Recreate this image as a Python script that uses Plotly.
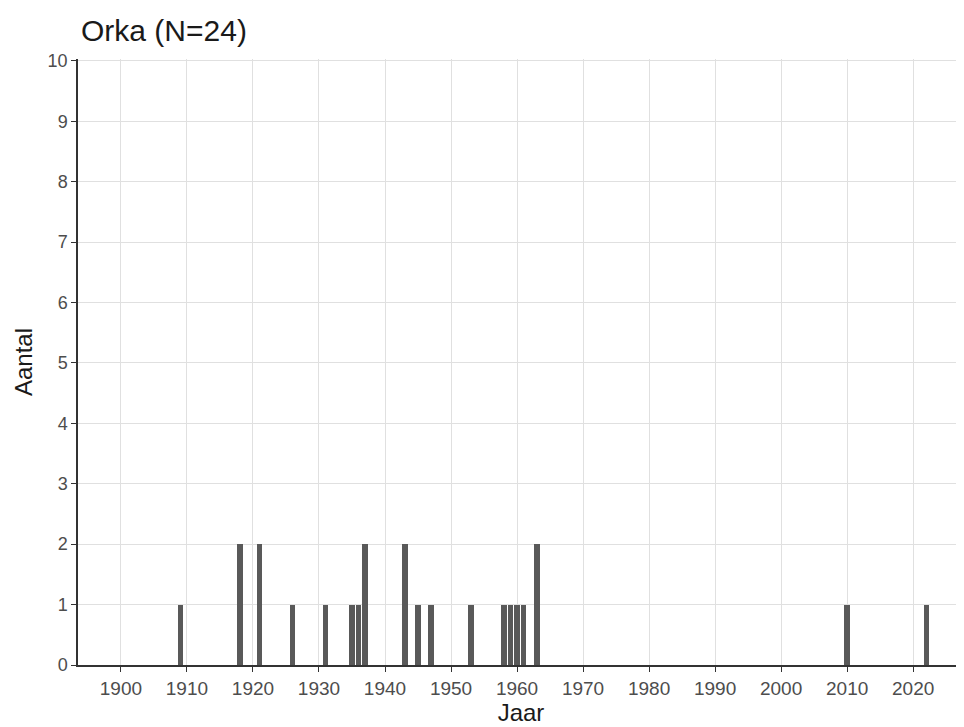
import plotly.graph_objects as go

years = [1909, 1918, 1921, 1926, 1931, 1935, 1936, 1937, 1943, 1945, 1947, 1953,
         1958, 1959, 1960, 1961, 1963, 2010, 2022]
counts = [1, 2, 2, 1, 1, 1, 1, 2, 2, 1, 1, 1, 1, 1, 1, 1, 2, 1, 1]
x_ticks = list(range(1900, 2030, 10))
y_ticks = list(range(0, 11))

fig = go.Figure()
fig.add_trace(go.Bar(x=years, y=counts, width=0.85,
                     marker=dict(color="#595959", line=dict(width=0))))

fig.update_layout(
    width=956, height=719,
    paper_bgcolor="white", plot_bgcolor="white",
    margin=dict(l=70, r=0, t=51, b=62),
    font=dict(family="Liberation Sans, Arial, sans-serif", color="#4d4d4d", size=18),
    title=dict(text="Orka (N=24)", x=0, xref="paper", xanchor="left",
               y=0.969, yref="container", yanchor="middle",
               font=dict(size=30, color="#1a1a1a"), pad=dict(l=3)),
    showlegend=False,
    bargap=0,
)
fig.update_xaxes(range=[1893.5, 2027.7], tickvals=x_ticks, ticks="outside",
                 ticklen=5, tickcolor="#333333", showgrid=True, gridcolor="#e0e0e0",
                 gridwidth=1, showline=True, linecolor="#333333", linewidth=1.5,
                 zeroline=False, tickfont=dict(size=19),
                 title=dict(text="Jaar", font=dict(size=24, color="#1a1a1a"), standoff=6))
fig.update_yaxes(range=[0, 10.03], tickvals=y_ticks, ticks="outside",
                 ticklen=5, tickcolor="#333333", showgrid=True, gridcolor="#e0e0e0",
                 gridwidth=1, showline=True, linecolor="#333333", linewidth=1.5,
                 zeroline=False, tickfont=dict(size=18),
                 title=dict(text="Aantal", font=dict(size=24, color="#1a1a1a"), standoff=8))

fig.write_html("out.html")
